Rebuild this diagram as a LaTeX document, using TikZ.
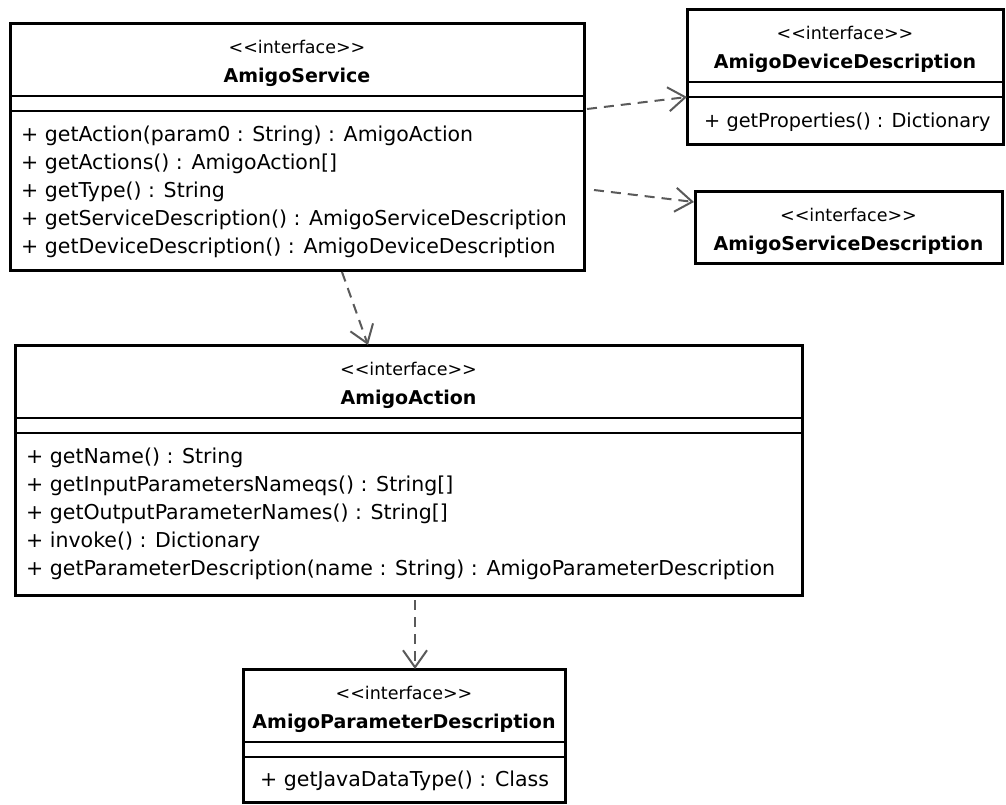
\documentclass[tikz,border=0pt]{standalone}
\usepackage{fontspec}
\setmainfont{DejaVu Sans}
\usetikzlibrary{arrows.meta,calc}

\definecolor{depgray}{HTML}{5A5A5A}

\tikzset{
  classbox/.style={draw=black, line width=3pt, fill=white, anchor=north west,
                   inner sep=0pt, outer sep=0pt},
  divider/.style={draw=black, line width=1.5pt},
  stereo/.style={inner sep=0pt, font=\fontsize{17.5}{20}\selectfont},
  cname/.style={inner sep=0pt, font=\fontsize{19}{22}\selectfont\bfseries},
  member/.style={anchor=west, inner sep=0pt, font=\fontsize{20.5}{24}\selectfont},
  narrowmember/.style={member, font=\fontsize{19.3}{23}\selectfont},
  dep/.style={draw=depgray, line width=2pt, dash pattern=on 10pt off 7pt,
              -{Straight Barb[length=17pt,width=24pt,line width=2pt]}},
}

% header of a class box: stereotype and name
\newcommand{\classhead}[2]{%
  \node[stereo] (#1-st) at ($(#1.north)+(0,24)$) {{<}{<}interface{>}{>}};
  \node[cname] (#1-nm) at ($(#1.north)+(0,54)$) {#2};
}
% the two compartment lines below the header
\newcommand{\compartments}[1]{%
  \draw[divider] ($(#1.north west)+(0,73)$) -- ($(#1.north east)+(0,73)$);
  \draw[divider] ($(#1.north west)+(0,88)$) -- ($(#1.north east)+(0,88)$);
}

\begin{document}
\begin{tikzpicture}[x=1pt,y=-1pt]
  \useasboundingbox (0,0) rectangle (1006,804);
  \fill[white] (0,0) rectangle (1006,804);

  % ---- class boxes ----
  \node[classbox, minimum width=574pt, minimum height=247pt] (svc)   at (10,23)  {};
  \node[classbox, minimum width=316pt, minimum height=135pt] (dev)   at (687,9)  {};
  \node[classbox, minimum width=307pt, minimum height=72pt]  (sdesc) at (695,191) {};
  \node[classbox, minimum width=787pt, minimum height=250pt] (act)   at (15,345) {};
  \node[classbox, minimum width=322pt, minimum height=133pt] (par)   at (243,669) {};

  % ---- AmigoService ----
  \classhead{svc}{AmigoService}
  \compartments{svc}
  \node[member] (svc-m1) at ($(svc.north west)+(11,113)$) {+ getAction(param0 : String) : AmigoAction};
  \node[member] (svc-m2) at ($(svc.north west)+(11,141)$) {+ getActions() : AmigoAction[]};
  \node[member] (svc-m3) at ($(svc.north west)+(11,169)$) {+ getType() : String};
  \node[member] (svc-m4) at ($(svc.north west)+(11,197)$) {+ getServiceDescription() : AmigoServiceDescription};
  \node[member] (svc-m5) at ($(svc.north west)+(11,225)$) {+ getDeviceDescription() : AmigoDeviceDescription};

  % ---- AmigoDeviceDescription ----
  \classhead{dev}{AmigoDeviceDescription}
  \compartments{dev}
  \node[narrowmember] (dev-m1) at ($(dev.north west)+(17,113)$) {+ getProperties() : Dictionary};

  % ---- AmigoServiceDescription ----
  \classhead{sdesc}{AmigoServiceDescription}

  % ---- AmigoAction ----
  \classhead{act}{AmigoAction}
  \compartments{act}
  \node[member] (act-m1) at ($(act.north west)+(11,113)$) {+ getName() : String};
  \node[member] (act-m2) at ($(act.north west)+(11,141)$) {+ getInputParametersNameqs() : String[]};
  \node[member] (act-m3) at ($(act.north west)+(11,169)$) {+ getOutputParameterNames() : String[]};
  \node[member] (act-m4) at ($(act.north west)+(11,197)$) {+ invoke() : Dictionary};
  \node[member] (act-m5) at ($(act.north west)+(11,225)$) {+ getParameterDescription(name : String) : AmigoParameterDescription};

  % ---- AmigoParameterDescription ----
  \classhead{par}{AmigoParameterDescription}
  \compartments{par}
  \node[member] (par-m1) at ($(par.north west)+(17,112)$) {+ getJavaDataType() : Class};

  % ---- dependencies ----
  \draw[dep] ($(svc.north east)+(3,86)$)   -- ($(dev.north west)+(0,88)$);
  \draw[dep] ($(svc.north east)+(10,167)$) -- ($(sdesc.north west)+(-1,11)$);
  \draw[dep] ($(svc.south west)+(332,2)$)  -- ($(act.north west)+(353,0)$);
  \draw[dep] ($(act.south west)+(400,5)$)  -- ($(par.north west)+(172,0)$);
\end{tikzpicture}
\end{document}
